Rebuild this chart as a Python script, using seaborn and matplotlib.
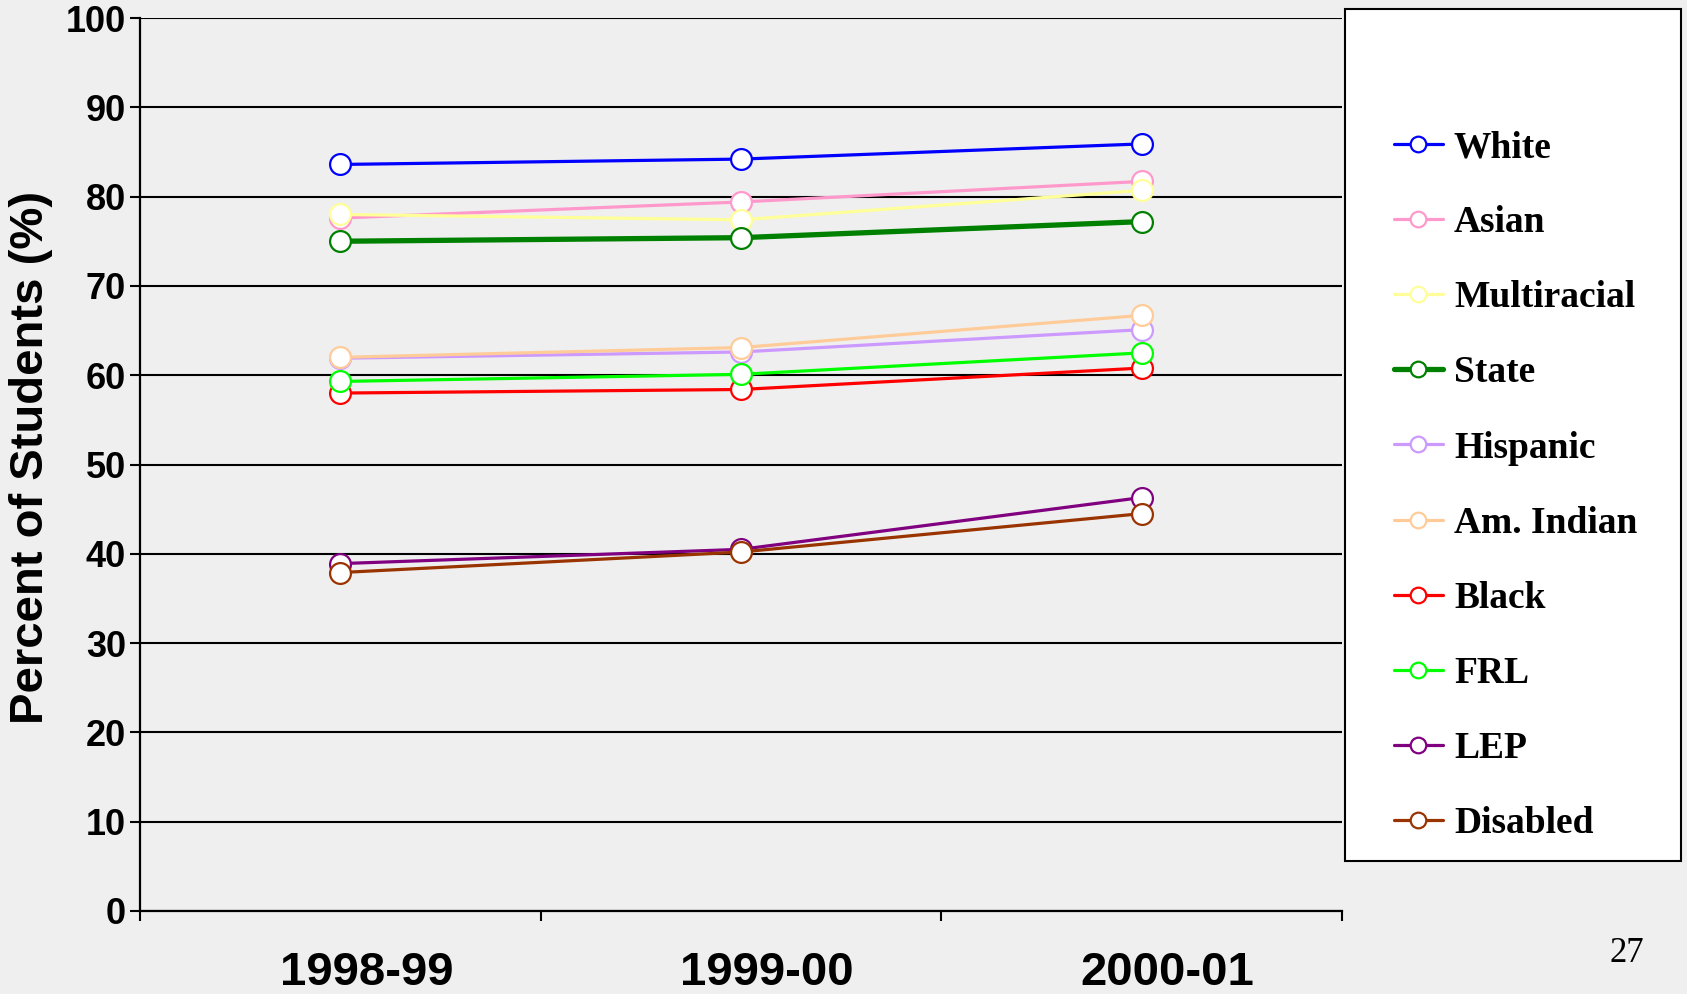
import pandas as pd
import seaborn as sns
import matplotlib.pyplot as plt
import matplotlib.transforms as mtransforms
from matplotlib.patches import Rectangle

# Values
years = ["1998-99", "1999-00", "2000-01"]
groups = ["White", "Asian", "Multiracial", "State", "Hispanic",
          "Am. Indian", "Black", "FRL", "LEP", "Disabled"]
white = [83.6, 84.2, 85.9]
asian = [77.6, 79.4, 81.7]
multiracial = [78.0, 77.4, 80.7]
state = [75.0, 75.4, 77.2]
hispanic = [61.9, 62.6, 65.1]
am_indian = [62.0, 63.1, 66.7]
black = [58.0, 58.4, 60.8]
frl = [59.3, 60.1, 62.5]
lep = [38.9, 40.5, 46.3]
disabled = [37.9, 40.2, 44.5]
series = [white, asian, multiracial, state, hispanic,
          am_indian, black, frl, lep, disabled]
colors = ["#0000ff", "#ff99cc", "#ffff99", "#008000", "#cc99ff",
          "#ffcc99", "#ff0000", "#00ff00", "#800080", "#993300"]

bg = "#efefef"

# long-form table
rows = []
for g, vals in zip(groups, series):
    for y, v in zip(years, vals):
        rows.append({"Year": y, "Group": g, "Percent": v})
df = pd.DataFrame(rows)

sns.set_style("white")
plt.rcParams["text.color"] = "black"
plt.rcParams["xtick.color"] = "black"
plt.rcParams["ytick.color"] = "black"
plt.rcParams["axes.labelcolor"] = "black"

fig = plt.figure(figsize=(16.87, 9.94), dpi=100, facecolor=bg)
ax = fig.add_axes([140 / 1687, 1 - 911 / 994, 1202 / 1687, 893 / 994])
ax.set_facecolor(bg)

for g, c in zip(groups, colors):
    lw = 3.8 if g == "State" else 2.3
    sns.lineplot(data=df[df["Group"] == g], x="Year", y="Percent", ax=ax,
                 color=c, linewidth=lw, marker="o", markersize=15,
                 markerfacecolor="white", markeredgecolor=c,
                 markeredgewidth=1.6, label=g)

ax.set_xlim(-0.5, 2.5)
ax.set_ylim(0, 100)
ax.set_yticks(range(0, 101, 10))
ax.set_xticks(range(len(years)))
ax.set_xticks([-0.5, 0.5, 1.5, 2.5], minor=True)
ax.grid(axis="y", color="black", linewidth=1.5)
ax.set_axisbelow(True)

for s in ["top", "right"]:
    ax.spines[s].set_visible(False)
for s in ["left", "bottom"]:
    ax.spines[s].set_color("black")
    ax.spines[s].set_linewidth(1.6)

ax.tick_params(axis="y", which="major", direction="out", length=7, width=1.5,
               color="black", left=True, pad=3, labelcolor="black")
ax.tick_params(axis="x", which="major", length=0, pad=29, labelcolor="black")
ax.tick_params(axis="x", which="minor", direction="out", length=7.5,
               width=1.5, color="black", bottom=True)

for lab in ax.get_yticklabels():
    lab.set_fontfamily("Liberation Sans")
    lab.set_fontweight("bold")
    lab.set_fontsize(26)
ax.set_xticklabels(years, fontfamily="Liberation Sans", fontweight="bold",
                   fontsize=34)
# the year labels sit a little right of the points
shift = mtransforms.ScaledTranslation(26 / 100, 0, fig.dpi_scale_trans)
for lab in ax.get_xticklabels():
    lab.set_transform(lab.get_transform() + shift)

ax.set_xlabel("")
ax.set_ylabel("Percent of Students (%)", fontfamily="Liberation Sans",
              fontweight="bold", fontsize=34, color="black")
ax.yaxis.set_label_coords(-0.072, 0.508)

# legend frame and entries
fig.patches.append(Rectangle((1345 / 1687, 1 - 861 / 994), 336 / 1687,
                             852 / 994, transform=fig.transFigure,
                             facecolor="white", edgecolor="black",
                             linewidth=1.5, zorder=-1))
leg = ax.legend(loc="upper left", bbox_to_anchor=(1394 / 1687, 1 - 130 / 994),
                bbox_transform=fig.transFigure, frameon=False,
                prop={"family": "Liberation Serif", "weight": "bold", "size": 27},
                handlelength=1.3, handletextpad=0.3, labelspacing=1.07,
                markerscale=0.75, borderpad=0, borderaxespad=0)
for h in leg.get_lines():
    h.set_linewidth(2.3)
leg.get_lines()[3].set_linewidth(3.8)

fig.text(1627 / 1687, 1 - 954 / 994, "27", fontfamily="Liberation Serif",
         fontsize=25, ha="center", va="center")

fig.savefig("out.png", dpi=100, facecolor=bg)
